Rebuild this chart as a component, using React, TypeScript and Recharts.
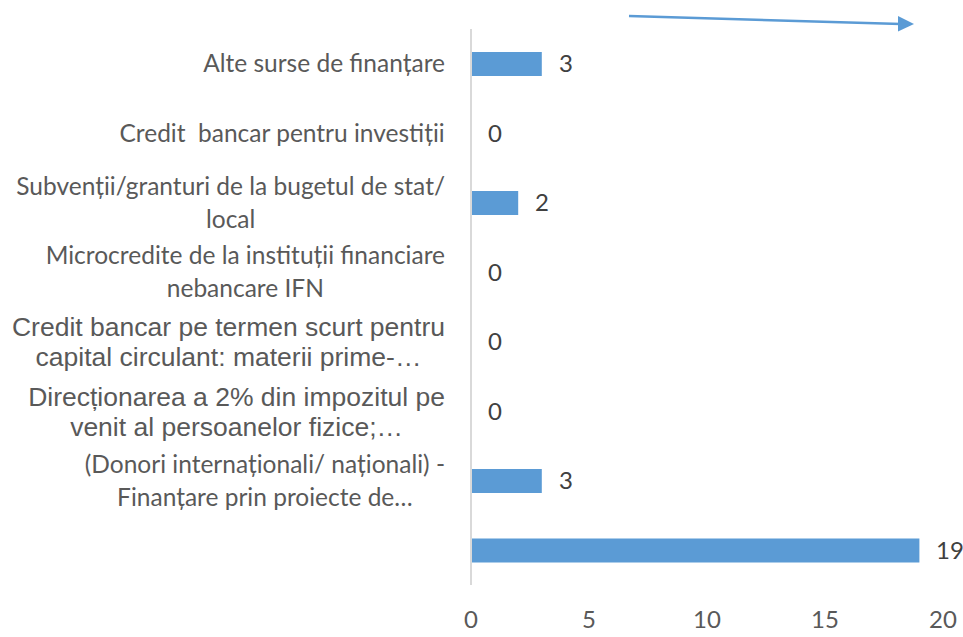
import React from 'react'
import { BarChart, Bar, XAxis, YAxis, LabelList } from 'recharts'

// category labels, already split into the lines shown in the chart
const categoryLines: string[][] = [
  ['Alte surse de finanțare'],
  ['Credit  bancar pentru investiții'],
  ['Subvenții/granturi de la bugetul de stat/', 'local'],
  ['Microcredite de la instituții financiare', 'nebancare IFN'],
  ['Credit bancar pe termen scurt pentru', 'capital circulant: materii prime-…'],
  ['Direcționarea a 2% din impozitul pe', 'venit al persoanelor fizice;…'],
  ['(Donori internaționali/ naționali) -', 'Finanțare prin proiecte de…'],
  [''],
]
const responses = [3, 0, 2, 0, 0, 0, 3, 19]
const xTicks = [0, 5, 10, 15, 20]

// which label font each row uses (the source mixes two)
const rowFonts = ['sans', 'sans', 'sans', 'sans', 'arial', 'arial', 'sans', 'sans']

const BAR_COLOR = '#5B9BD5'
const TEXT_COLOR = '#595959'
const SANS = 'Lato'
const ARIAL = '"Liberation Sans", Arial'

const data = responses.map((value, i) => ({ key: String(i), value }))

let canvasCtx: CanvasRenderingContext2D | null = null
function measure(text: string, font: string) {
  if (!canvasCtx) canvasCtx = document.createElement('canvas').getContext('2d')
  if (!canvasCtx) return text.length * 10
  canvasCtx.font = font
  return canvasCtx.measureText(text).width
}

function CategoryTick(props: any) {
  const { x, y, payload } = props
  const idx = Number(payload.value)
  const lines = categoryLines[idx] || ['']
  const arial = rowFonts[idx] === 'arial'
  const family = arial ? ARIAL : SANS
  const size = arial ? 26.5 : 24.5
  const lineHeight = arial ? 30 : 33
  const widths = lines.map((l) => measure(l, `${size}px ${arial ? 'Liberation Sans' : SANS}`))
  const maxW = Math.max(...widths)
  const cx = x - maxW / 2
  const startY = y - ((lines.length - 1) * lineHeight) / 2
  return (
    <text
      textAnchor="middle"
      fill={TEXT_COLOR}
      fontFamily={family}
      fontSize={size}
      style={{ whiteSpace: 'pre' }}
    >
      {lines.map((line, i) => (
        <tspan key={i} x={cx} y={startY + i * lineHeight} dy="0.35em">
          {line}
        </tspan>
      ))}
    </text>
  )
}

// value label to the right of each bar, also drawn for zero values
function ValueLabel(props: any) {
  const { x, y, width, height, value } = props
  if (value == null) return null
  return (
    <text
      x={Number(x) + Math.round(Number(width)) + 17}
      y={Number(y) + Number(height) / 2}
      dy="0.35em"
      fill="#404040"
      fontSize={24}
      fontFamily={SANS}
    >
      {value}
    </text>
  )
}

export default function App() {
  return (
    <div style={{ position: 'absolute', left: 0, top: 0, width: 963, height: 637, background: '#fff' }}>
      <BarChart
        width={963}
        height={637}
        data={data}
        layout="vertical"
        margin={{ top: 29, right: 20, bottom: 0, left: 0 }}
      >
        <XAxis
          type="number"
          domain={[0, 20]}
          ticks={xTicks}
          axisLine={false}
          tickLine={false}
          tickSize={0}
          tickMargin={26}
          height={52}
          tick={{ fill: TEXT_COLOR, fontSize: 24, fontFamily: SANS }}
        />
        <YAxis
          type="category"
          dataKey="key"
          width={471}
          axisLine={{ stroke: '#d9d9d9', strokeWidth: 2 }}
          tickLine={false}
          tickSize={0}
          tickMargin={26}
          interval={0}
          tick={<CategoryTick />}
        />
        <Bar
          dataKey="value"
          fill={BAR_COLOR}
          barSize={24}
          minPointSize={0.001}
          isAnimationActive={false}
        >
          <LabelList dataKey="value" content={<ValueLabel />} />
        </Bar>
      </BarChart>
      {/* decorative arrow drawn over the chart */}
      <svg
        width={963}
        height={637}
        style={{ position: 'absolute', left: 0, top: 0, pointerEvents: 'none' }}
      >
        <line x1={629} y1={16} x2={901} y2={24} stroke={BAR_COLOR} strokeWidth={2.5} />
        <polygon points="898,16 914,24 898,31.5" fill={BAR_COLOR} />
      </svg>
    </div>
  )
}
